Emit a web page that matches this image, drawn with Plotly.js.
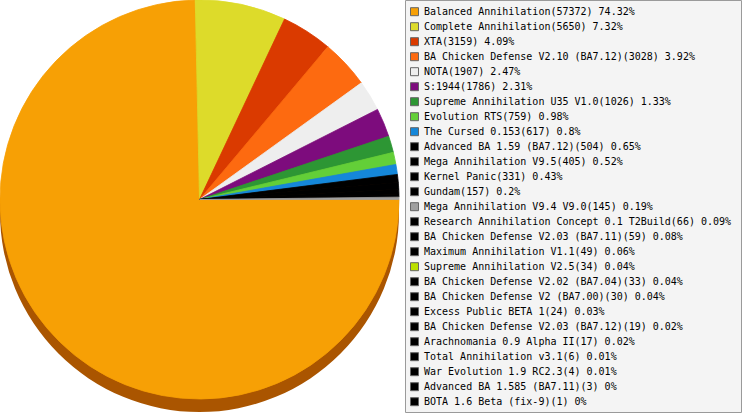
<!DOCTYPE html>
<html>
<head>
<meta charset="utf-8">
<script src="https://cdn.plot.ly/plotly-3.0.1.min.js"></script>
<style>html,body{margin:0;padding:0;background:#fff;}#chart{width:743px;height:415px;}</style>
</head>
<body>
<div id="chart"></div>
<script>
var names = [
  "Balanced Annihilation","Complete Annihilation","XTA","BA Chicken Defense V2.10 (BA7.12)",
  "NOTA","S:1944","Supreme Annihilation U35 V1.0","Evolution RTS","The Cursed 0.153",
  "Advanced BA 1.59 (BA7.12)","Mega Annihilation V9.5","Kernel Panic","Gundam",
  "Mega Annihilation V9.4 V9.0","Research Annihilation Concept 0.1 T2Build",
  "BA Chicken Defense V2.03 (BA7.11)","Maximum Annihilation V1.1","Supreme Annihilation V2.5",
  "BA Chicken Defense V2.02 (BA7.04)","BA Chicken Defense V2 (BA7.00)","Excess Public BETA 1",
  "BA Chicken Defense V2.03 (BA7.12)","Arachnomania 0.9 Alpha II","Total Annihilation v3.1",
  "War Evolution 1.9 RC2.3","Advanced BA 1.585 (BA7.11)","BOTA 1.6 Beta (fix-9)"
];
var counts = [57372,5650,3159,3028,1907,1786,1026,759,617,504,405,331,157,145,66,59,49,34,33,30,24,19,17,6,4,3,1];
var colors = [
  "#F7A005","#DDDB2A","#DA3A00","#FD6A10","#EEEEEE","#7D0C7D","#2D9634","#63CF38","#1587D9",
  "#000000","#000000","#000000","#000000","#A0A0A0","#000000","#000000","#000000","#BBE000",
  "#000000","#000000","#000000","#000000","#000000","#000000","#000000","#000000","#000000"
];

var W = 743, H = 415;
function px(x){ return x / W; }
function py(y){ return 1 - y / H; }

var total = counts.reduce(function(a,b){return a+b;}, 0);
var labels = names.map(function(n,i){
  var p = Math.round(counts[i] * 10000 / total) / 100;
  return n + "(" + counts[i] + ") " + String(p) + "%";
});

// the reference only draws slices of at least 0.1%
var shown = [];
for (var k = 0; k < counts.length; k++) { if (counts[k] / total >= 0.001) shown.push(k); }

var shadow = {
  type: "pie", values: [1], labels: ["shadow"],
  marker: {colors: ["#AA5500"], line: {width: 0}},
  textinfo: "none", hoverinfo: "skip", sort: false, showlegend: false,
  domain: {x: [px(0), px(399)], y: [py(412), py(13)]}
};
var pie = {
  type: "pie",
  values: shown.map(function(k){ return counts[k]; }),
  labels: shown.map(function(k){ return names[k]; }),
  marker: {colors: shown.map(function(k){ return colors[k]; }),
           line: {width: 0.8, color: shown.map(function(k){ return colors[k]; })}},
  textinfo: "none", hoverinfo: "skip", sort: false, showlegend: false,
  direction: "clockwise", rotation: 90,
  domain: {x: [px(0), px(399)], y: [py(399), py(0)]}
};

var shapes = [{
  type: "rect", xref: "paper", yref: "paper",
  x0: px(405.5), x1: px(741.5), y0: py(412.5), y1: py(0.5),
  line: {color: "#9A9A9A", width: 1}, fillcolor: "#F4F4F4", layer: "below"
}];
var annotations = [];
for (var i = 0; i < labels.length; i++) {
  var cy = 11.7 + 15 * i;
  shapes.push({
    type: "rect", xref: "paper", yref: "paper",
    x0: px(410.5), x1: px(418.5), y0: py(cy + 4), y1: py(cy - 4),
    line: {color: "#666666", width: 1}, fillcolor: colors[i]
  });
  annotations.push({
    xref: "paper", yref: "paper", x: px(421.5), y: py(cy),
    xanchor: "left", yanchor: "middle", showarrow: false,
    text: labels[i],
    font: {family: "DejaVu Sans Mono", size: 10, color: "#000000"}
  });
}

var layout = {
  width: W, height: H,
  margin: {l: 0, r: 0, t: 0, b: 0, pad: 0},
  paper_bgcolor: "#FFFFFF", plot_bgcolor: "#FFFFFF",
  showlegend: false,
  shapes: shapes, annotations: annotations
};
Plotly.newPlot("chart", [shadow, pie], layout, {displayModeBar: false, staticPlot: true});
</script>
</body>
</html>
